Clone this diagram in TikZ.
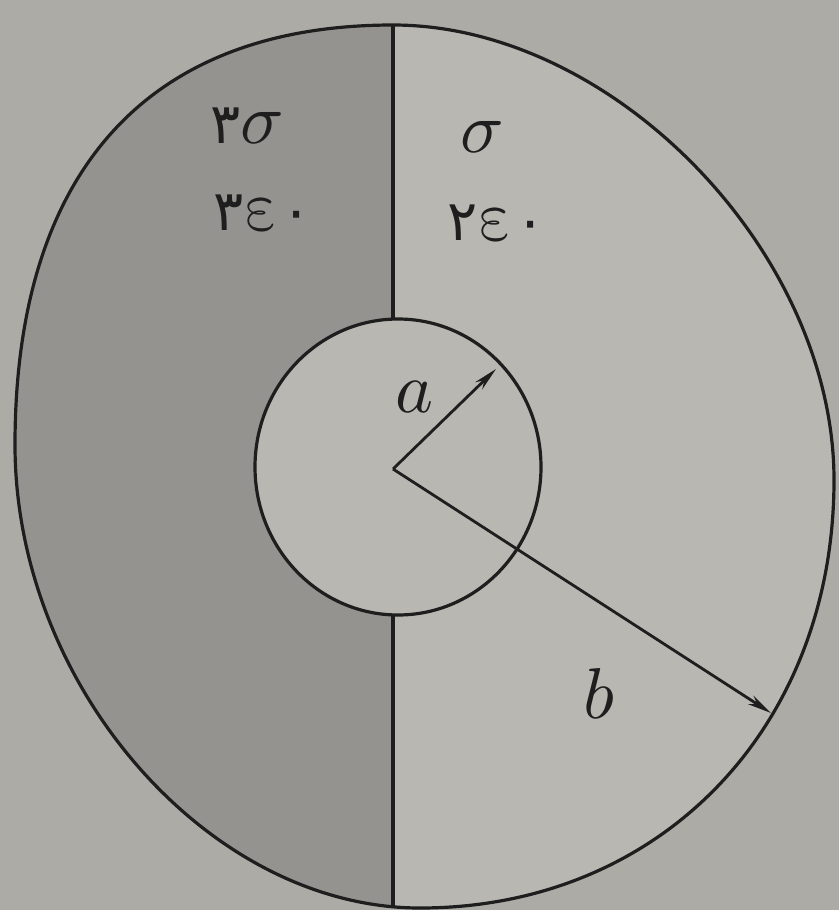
\documentclass[tikz,border=0pt]{standalone}
\usepackage{fontspec}
\usepackage{unicode-math}
\setmathfont{Latin Modern Math}
\usetikzlibrary{arrows.meta}
\newfontfamily\arabicfont[Script=Arabic,Scale=0.78]{DejaVu Sans}
\definecolor{bgcol}{RGB}{172,171,166}
\definecolor{lightcol}{RGB}{184,183,178}
\definecolor{darkcol}{RGB}{148,147,143}
\definecolor{inkcol}{RGB}{30,30,30}
\tikzset{
  outline/.style={draw=inkcol, line width=3.2pt},
  radius line/.style={draw=inkcol, line width=2.8pt, -{Stealth[length=24pt,width=10pt]}},
  lbl/.style={text=inkcol, inner sep=0pt, anchor=base west, font=\fontsize{72}{80}\selectfont},
}
\begin{document}
\begin{tikzpicture}[x=1pt,y=-1pt]
\fill[bgcol] (0,0) rectangle (839,910);
\useasboundingbox (0,0) rectangle (839,910);
% outer disc (photographed circle, slightly distorted)
\def\outerpath{(15,445)
  .. controls (15,172) and (147,25) .. (393,25)
  .. controls (613.5,25) and (834,252.5) .. (834,480)
  .. controls (834,728) and (660,908) .. (420,908)
  .. controls (209,908) and (15,686) .. (15,445) -- cycle}
\fill[lightcol] \outerpath;
\begin{scope}
  \clip (0,0) rectangle (393,910);
  \fill[darkcol] \outerpath;
\end{scope}
% inner disc
\fill[lightcol] (398,467) ellipse [x radius=143, y radius=148];
% outlines
\draw[outline] \outerpath;
\draw[outline] (398,467) ellipse [x radius=143, y radius=148];
\coordinate (topO) at (393,25);
\coordinate (topI) at (393,319);
\coordinate (botI) at (393,615);
\coordinate (botO) at (393,907);
\draw[outline] (topO) -- (topI);
\draw[outline] (botI) -- (botO);
% radii
\coordinate (O) at (393,469);
\coordinate (A) at (496,369);
\coordinate (B) at (771,713);
\draw[radius line] (O) -- (A);
\draw[radius line] (O) -- (B);
% labels
\node[lbl] (s3) at (210,143) {{\arabicfont ٣}$\sigma$};
\node[lbl] (e3) at (213,230) {{\arabicfont ٣}$\upvarepsilon${\arabicfont ٠}};
\node[lbl] (s1) at (460,152) {$\sigma$};
\node[lbl] (e2) at (447,240) {{\arabicfont ٢}$\upvarepsilon${\arabicfont ٠}};
\node[lbl] (la) at (395,412) {$a$};
\node[lbl] (lb) at (583,718) {$b$};
\end{tikzpicture}
\end{document}
